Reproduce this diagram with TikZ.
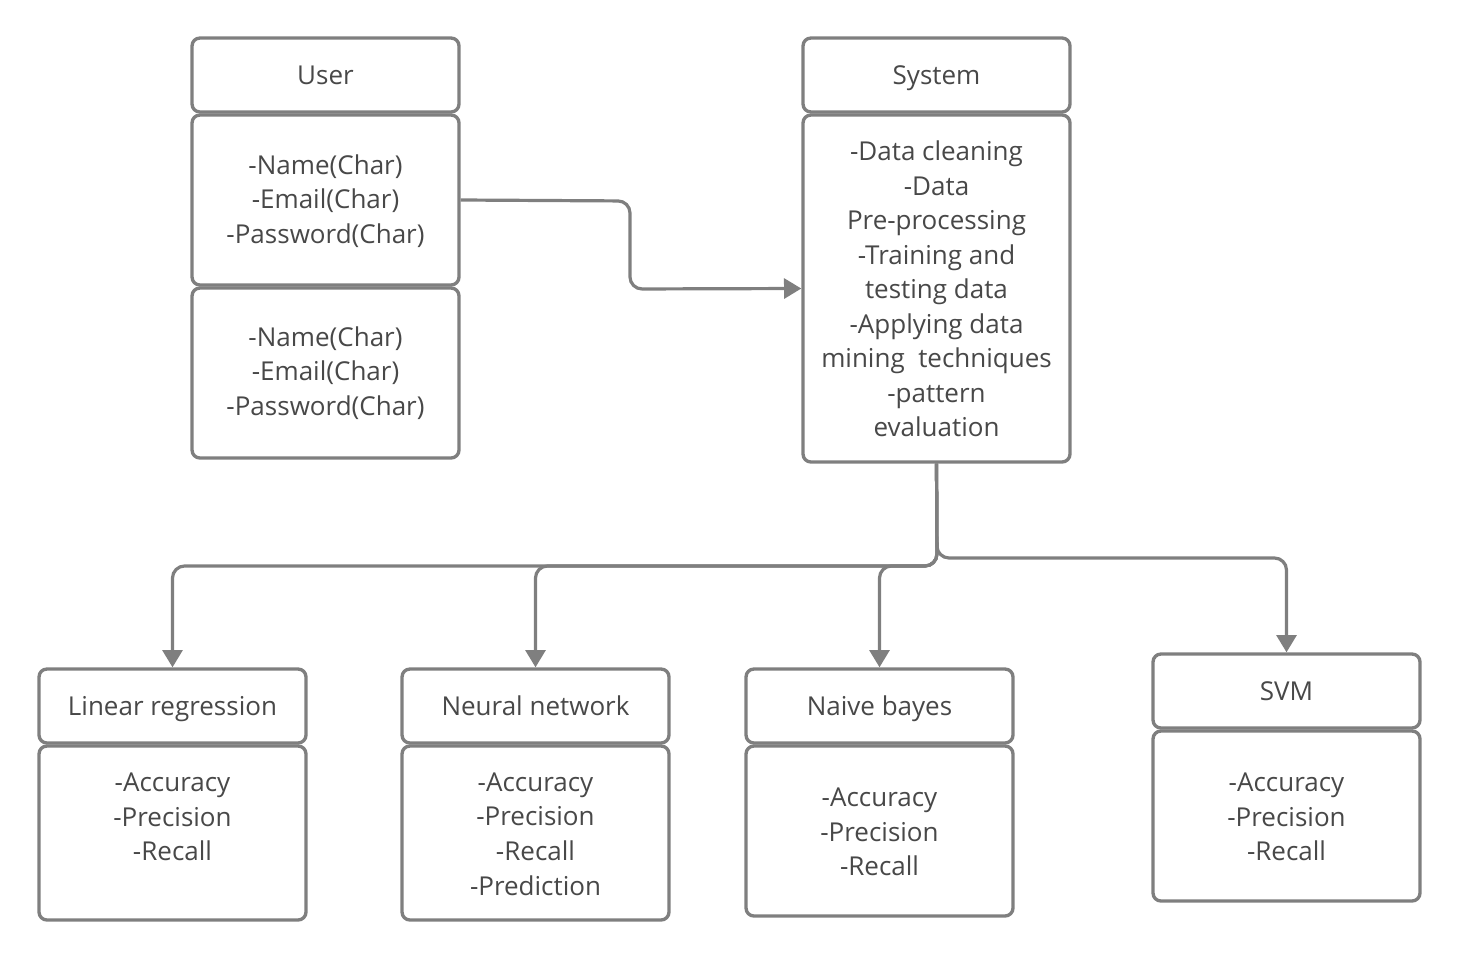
\documentclass[tikz,border=0pt]{standalone}
\usepackage{fontspec}
\setmainfont{Open Sans}
\usetikzlibrary{arrows.meta}
\definecolor{linegray}{HTML}{7F7F7F}
\definecolor{textgray}{HTML}{484848}
\begin{document}
\begin{tikzpicture}[x=0.75pt,y=-0.75pt,
  box/.style={draw=linegray,line width=2.5pt,rounded corners=6pt,minimum width=200.25pt,inner sep=0pt,fill=white},
  txt/.style={text=textgray,font=\fontsize{19.5}{25.9}\selectfont,align=center,inner sep=0pt},
  hdr/.style={txt,text height=13pt,text depth=0pt},
  conn/.style={draw=linegray,line width=2.4pt,rounded corners=9pt,-{Triangle[width=15pt,length=13pt]}}]
\useasboundingbox (0,0) rectangle (1459,960);
% User
\node[box,minimum height=55.5pt] (uh) at (325.5,75) {};
\node[hdr] (uht) at (325.5,76) {User};
\node[box,minimum height=127.5pt] (ub1) at (325.5,200) {};
\node[txt] (ub1t) at (325.5,201) {-Name(Char)\\-Email(Char)\\-Password(Char)};
\node[box,minimum height=127.5pt] (ub2) at (325.5,373) {};
\node[txt] (ub2t) at (325.5,373) {-Name(Char)\\-Email(Char)\\-Password(Char)};
% System
\node[box,minimum height=55.5pt] (sh) at (936.5,75) {};
\node[hdr] (sht) at (936.5,76) {System};
\node[box,minimum height=260.25pt] (sb) at (936.5,288.5) {};
\node[txt] (sbt) at (936.5,289) {-Data cleaning\\-Data\\Pre-processing\\-Training and\\testing data\\-Applying data\\mining\ \ techniques\\-pattern\\evaluation};
% Linear regression
\node[box,minimum height=55.5pt] (lrh) at (172.5,706) {};
\node[hdr] (lrht) at (172.5,707) {Linear regression};
\node[box,minimum height=130.5pt] (lrb) at (172.5,833) {};
\node[txt] (lrbt) at (172.5,817) {-Accuracy\\-Precision\\-Recall};
% Neural network
\node[box,minimum height=55.5pt] (nnh) at (535.5,706) {};
\node[hdr] (nnht) at (535.5,707) {Neural network};
\node[box,minimum height=130.5pt] (nnb) at (535.5,833) {};
\node[txt] (nnbt) at (535.5,834) {-Accuracy\\-Precision\\-Recall\\-Prediction};
% Naive bayes
\node[box,minimum height=55.5pt] (nbh) at (879.5,706) {};
\node[hdr] (nbht) at (879.5,707) {Naive bayes};
\node[box,minimum height=127.5pt] (nbb) at (879.5,831) {};
\node[txt] (nbbt) at (879.5,832) {-Accuracy\\-Precision\\-Recall};
% SVM
\node[box,minimum height=55.5pt] (svh) at (1286.5,691) {};
\node[hdr] (svht) at (1286.5,692) {SVM};
\node[box,minimum height=127.5pt] (svb) at (1286.5,816) {};
\node[txt] (svbt) at (1286.5,817) {-Accuracy\\-Precision\\-Recall};
% connectors
\draw[conn] (ub1.east) -- (630,201) -- (630,289) -- (sb.west);
\draw[conn] (sb.south) -- (937,558) -- (1286.5,558) -- (svh.north);
\draw[conn] (sb.south) -- (937,566) -- (172.5,566) -- (lrh.north);
\draw[conn] (sb.south) -- (937,566) -- (535.5,566) -- (nnh.north);
\draw[conn] (sb.south) -- (937,566) -- (879.5,566) -- (nbh.north);
\end{tikzpicture}
\end{document}
